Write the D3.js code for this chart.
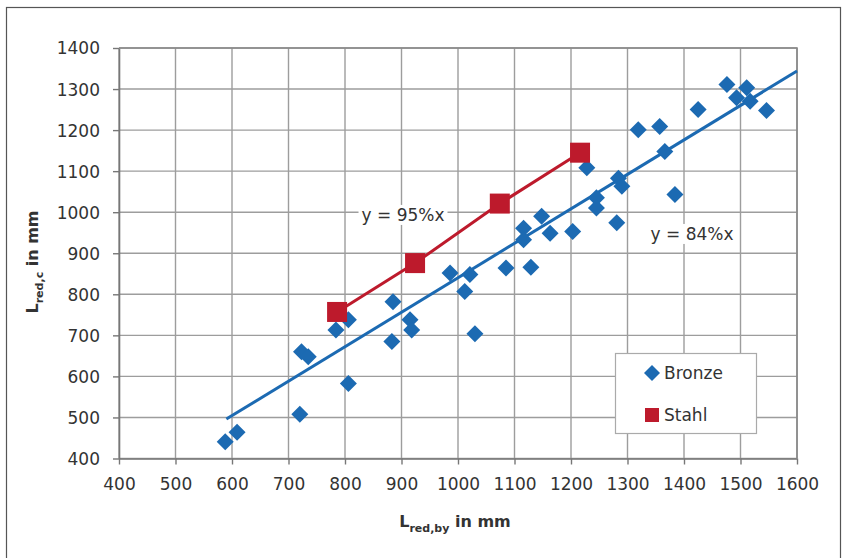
<!DOCTYPE html>
<html>
<head>
<meta charset="utf-8">
<script src="https://cdn.jsdelivr.net/npm/d3@7"></script>
<style>
  body { margin: 0; background: #fff; }
  text { font-family: "DejaVu Sans", sans-serif; fill: #333; }
</style>
</head>
<body>
<div id="chart"></div>
<script>
// data
var bronzeX = [588, 609, 720, 723, 735, 784, 806, 806, 885, 883, 915, 918, 986, 1021, 1012, 1030,
               1085, 1129, 1116, 1116, 1148, 1163, 1203, 1228, 1245, 1245, 1281, 1284, 1290,
               1319, 1357, 1366, 1384, 1425, 1476, 1511, 1493, 1517, 1546];
var bronzeY = [441, 464, 508, 660, 648, 713, 738, 583, 782, 685, 738, 713, 852, 848, 807, 704,
               864, 866, 961, 933, 990, 949, 953, 1108, 1035, 1010, 974, 1083, 1063,
               1201, 1209, 1148, 1043, 1250, 1311, 1303, 1279, 1270, 1248];
var stahlX = [786, 924, 1074, 1216];
var stahlY = [757, 876, 1021, 1145];
var trendBronze = [[590, 496], [1600, 1344]];
var xTicks = [400, 500, 600, 700, 800, 900, 1000, 1100, 1200, 1300, 1400, 1500, 1600];
var yTicks = [400, 500, 600, 700, 800, 900, 1000, 1100, 1200, 1300, 1400];
var seriesNames = ["Bronze", "Stahl"];

var blue = "#1c6ab2", red = "#bd1a2c";

var W = 847, H = 558;
var svg = d3.select("#chart").append("svg")
    .attr("width", W)
    .attr("height", H);

// outer frame
svg.append("rect")
    .attr("x", 6.5).attr("y", 7.5)
    .attr("width", 834).attr("height", 600)
    .attr("fill", "none")
    .attr("stroke", "#555")
    .attr("stroke-width", 1.2);

var x = d3.scaleLinear().domain([400, 1600]).range([119, 797]);
var y = d3.scaleLinear().domain([400, 1400]).range([458.5, 48]);

// gridlines
svg.append("g").selectAll("line.vg")
  .data(xTicks)
  .enter().append("line")
    .attr("x1", function(d) { return x(d); })
    .attr("x2", function(d) { return x(d); })
    .attr("y1", y(400)).attr("y2", y(1400))
    .attr("stroke", "#9d9d9d")
    .attr("stroke-width", 1.4);

svg.append("g").selectAll("line.hg")
  .data(yTicks)
  .enter().append("line")
    .attr("y1", function(d) { return y(d); })
    .attr("y2", function(d) { return y(d); })
    .attr("x1", x(400)).attr("x2", x(1600))
    .attr("stroke", "#9d9d9d")
    .attr("stroke-width", 1.4);

// axes
var fmt = d3.format("d");
var xAxis = svg.append("g")
    .attr("transform", "translate(0," + y(400) + ")")
    .call(d3.axisBottom(x).tickValues(xTicks).tickFormat(fmt).tickSize(6).tickSizeOuter(0).tickPadding(10));
var yAxis = svg.append("g")
    .attr("transform", "translate(" + x(400) + ",0)")
    .call(d3.axisLeft(y).tickValues(yTicks).tickFormat(fmt).tickSize(6).tickSizeOuter(0).tickPadding(13));

[xAxis, yAxis].forEach(function(a) {
  a.select(".domain").attr("stroke", "#777").attr("stroke-width", 1.6);
  a.selectAll(".tick line").attr("stroke", "#777").attr("stroke-width", 1.4);
  a.selectAll(".tick text")
    .style("font-family", "DejaVu Sans, sans-serif")
    .style("font-size", "17px")
    .attr("fill", "#333");
});
xAxis.selectAll(".tick text").attr("dy", "0.9em");
yAxis.selectAll(".tick text").attr("dy", "0.35em");

// plot border top/right
svg.append("path")
    .attr("d", "M" + x(400) + "," + y(1400) + "H" + x(1600) + "V" + y(400))
    .attr("fill", "none")
    .attr("stroke", "#888")
    .attr("stroke-width", 1.6);

// trend line Bronze
svg.append("path")
    .datum(trendBronze)
    .attr("d", d3.line()
      .x(function(d) { return x(d[0]); })
      .y(function(d) { return y(d[1]); }))
    .attr("stroke", blue)
    .attr("stroke-width", 3)
    .attr("fill", "none");

// Stahl line
var stahl = stahlX.map(function(v, i) { return [v, stahlY[i]]; });
svg.append("path")
    .datum(stahl)
    .attr("d", d3.line()
      .x(function(d) { return x(d[0]); })
      .y(function(d) { return y(d[1]); }))
    .attr("stroke", red)
    .attr("stroke-width", 3)
    .attr("fill", "none");

// diamonds
function diamond(cx, cy, r) {
  return "M" + cx + "," + (cy - r) + "L" + (cx + r) + "," + cy +
         "L" + cx + "," + (cy + r) + "L" + (cx - r) + "," + cy + "Z";
}
var bronze = bronzeX.map(function(v, i) { return [v, bronzeY[i]]; });
svg.append("g").selectAll("path")
  .data(bronze)
  .enter().append("path")
    .attr("d", function(d) { return diamond(x(d[0]), y(d[1]), 8.5); })
    .attr("fill", blue);

// squares
svg.append("g").selectAll("rect")
  .data(stahl)
  .enter().append("rect")
    .attr("x", function(d) { return x(d[0]) - 10; })
    .attr("y", function(d) { return y(d[1]) - 10; })
    .attr("width", 20).attr("height", 20)
    .attr("fill", red);

// equation labels
function eqLabel(cx, cy, txt) {
  var g = svg.append("g");
  var t = g.append("text")
      .attr("x", cx).attr("y", cy)
      .attr("dy", "0.35em")
      .attr("text-anchor", "middle")
      .style("font-size", "17px")
      .text(txt);
  var bb = t.node().getBBox();
  g.insert("rect", "text")
      .attr("x", bb.x - 3).attr("y", bb.y)
      .attr("width", bb.width + 6).attr("height", bb.height)
      .attr("fill", "#fff");
}
eqLabel(403, 215, "y = 95%x");
eqLabel(692, 234, "y = 84%x");

// legend
var lg = svg.append("g");
lg.append("rect")
    .attr("x", 615.5).attr("y", 353.5)
    .attr("width", 141).attr("height", 80)
    .attr("fill", "#fff")
    .attr("stroke", "#aaa")
    .attr("stroke-width", 1.2);
lg.append("path")
    .attr("d", diamond(652, 373, 8))
    .attr("fill", blue);
lg.append("rect")
    .attr("x", 645).attr("y", 408)
    .attr("width", 14).attr("height", 14)
    .attr("fill", red);
lg.selectAll("text.leg")
  .data(seriesNames)
  .enter().append("text")
    .attr("x", 664)
    .attr("y", function(d, i) { return 373 + i * 42; })
    .attr("dy", "0.35em")
    .style("font-size", "17px")
    .text(function(d) { return d; });

// axis titles
var xt = svg.append("text")
    .attr("x", 455).attr("y", 527)
    .attr("text-anchor", "middle")
    .style("font-size", "16px")
    .style("font-weight", "bold");
xt.append("tspan").text("L");
xt.append("tspan").attr("dy", 5).style("font-size", "11px").text("red,by");
xt.append("tspan").attr("dy", -5).text(" in mm");

var yt = svg.append("text")
    .attr("transform", "translate(38,262) rotate(-90)")
    .attr("text-anchor", "middle")
    .style("font-size", "16px")
    .style("font-weight", "bold");
yt.append("tspan").text("L");
yt.append("tspan").attr("dy", 5).style("font-size", "11px").text("red,c");
yt.append("tspan").attr("dy", -5).text(" in mm");
</script>
</body>
</html>
